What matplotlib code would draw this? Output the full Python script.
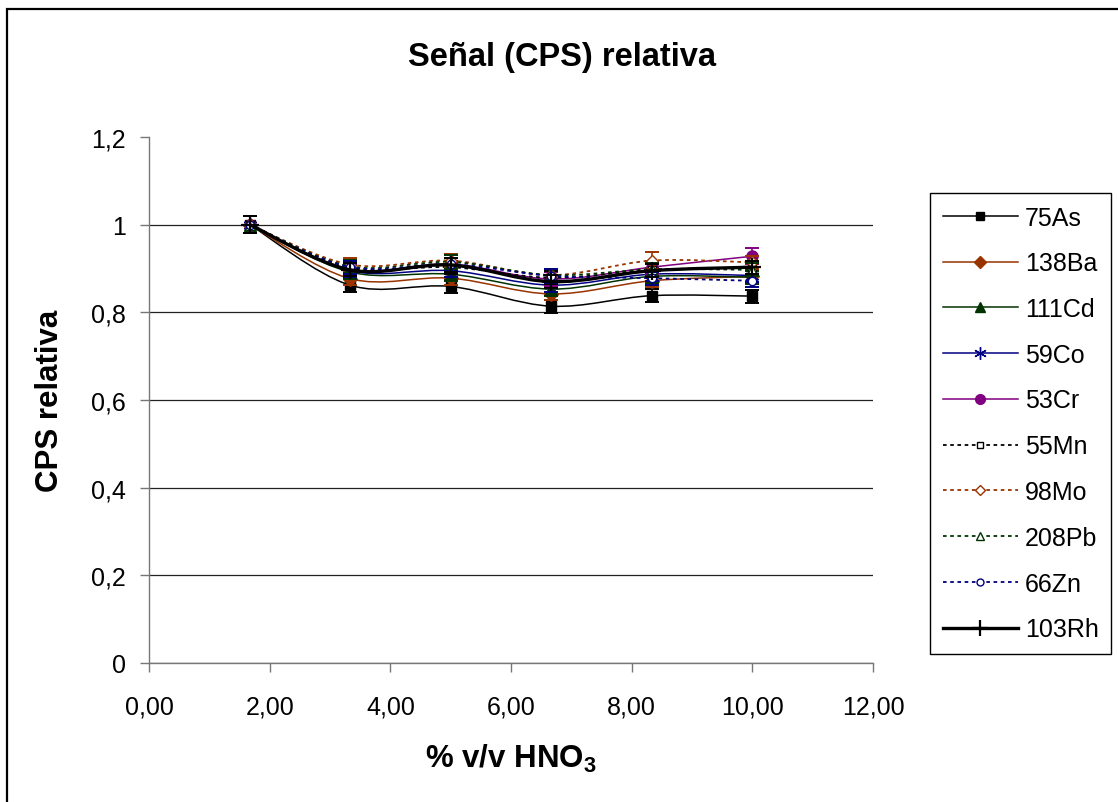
import numpy as np
import matplotlib
matplotlib.use("Agg")
import matplotlib.pyplot as plt
from matplotlib.path import Path
from matplotlib.patches import PathPatch, Rectangle
from matplotlib.lines import Line2D
from matplotlib.ticker import FuncFormatter

plt.rcParams["font.family"] = ["Liberation Sans", "DejaVu Sans"]

# % v/v HNO3
hno3 = [1.67, 3.33, 5.00, 6.67, 8.33, 10.00]

labels = ["75As", "138Ba", "111Cd", "59Co", "53Cr", "55Mn", "98Mo", "208Pb", "66Zn", "103Rh"]

as75 = [1.000, 0.862, 0.859, 0.814, 0.838, 0.837]
ba138 = [1.000, 0.877, 0.878, 0.842, 0.872, 0.882]
cd111 = [1.000, 0.892, 0.887, 0.853, 0.882, 0.880]
co59 = [1.000, 0.895, 0.895, 0.862, 0.887, 0.884]
cr53 = [1.000, 0.898, 0.910, 0.876, 0.903, 0.928]
mn55 = [1.000, 0.903, 0.903, 0.879, 0.897, 0.902]
mo98 = [1.000, 0.909, 0.918, 0.885, 0.918, 0.914]
pb208 = [1.000, 0.905, 0.915, 0.885, 0.898, 0.897]
zn66 = [1.000, 0.903, 0.910, 0.883, 0.878, 0.872]
rh103 = [1.000, 0.897, 0.908, 0.870, 0.895, 0.903]

as75_err = [0.020, 0.015, 0.015, 0.015, 0.015, 0.015]
ba138_err = [0.020, 0.015, 0.015, 0.015, 0.015, 0.015]
cd111_err = [0.020, 0.015, 0.015, 0.015, 0.015, 0.015]
co59_err = [0.020, 0.015, 0.015, 0.015, 0.015, 0.015]
cr53_err = [0.020, 0.015, 0.015, 0.015, 0.015, 0.018]
mn55_err = [0.020, 0.015, 0.015, 0.015, 0.015, 0.015]
mo98_err = [0.020, 0.015, 0.015, 0.015, 0.020, 0.015]
pb208_err = [0.020, 0.015, 0.015, 0.015, 0.015, 0.015]
zn66_err = [0.020, 0.015, 0.015, 0.015, 0.015, 0.015]
rh103_err = [0.020, 0.015, 0.015, 0.015, 0.015, 0.015]

values = [as75, ba138, cd111, co59, cr53, mn55, mo98, pb208, zn66, rh103]
errors = [as75_err, ba138_err, cd111_err, co59_err, cr53_err,
          mn55_err, mo98_err, pb208_err, zn66_err, rh103_err]

BLACK = "#000000"
BROWN = "#993300"
DGREEN = "#003300"
NAVY = "#000080"
PURPLE = "#800080"

DOT = (0, (2.0, 2.0))
# color, linestyle, linewidth, marker, markersize, filled
styles = [
    (BLACK, "-", 1.1, "s", 7, True),
    (BROWN, "-", 1.1, "D", 7, True),
    (DGREEN, "-", 1.1, "^", 8, True),
    (NAVY, "-", 1.1, (6, 2, 0), 10, True),
    (PURPLE, "-", 1.1, "o", 8, True),
    (BLACK, DOT, 1.3, "s", 5.5, False),
    (BROWN, DOT, 1.3, "D", 6.5, False),
    (DGREEN, DOT, 1.3, "^", 6.5, False),
    (NAVY, DOT, 1.3, "o", 6, False),
    (BLACK, "-", 2.4, "+", 13, True),
]


def smooth_path(x, y):
    # Excel-like smoothed line: Catmull-Rom segments as cubic Beziers
    pts = np.column_stack([x, y]).astype(float)
    n = len(pts)
    verts = [pts[0]]
    codes = [Path.MOVETO]
    for i in range(n - 1):
        p0 = pts[max(i - 1, 0)]
        p1 = pts[i]
        p2 = pts[i + 1]
        p3 = pts[min(i + 2, n - 1)]
        verts += [p1 + (p2 - p0) / 6.0, p2 - (p3 - p1) / 6.0, p2]
        codes += [Path.CURVE4] * 3
    return Path(verts, codes)


fig = plt.figure(figsize=(11.18, 8.03), dpi=100)
ax = fig.add_axes([149 / 1118, 1 - 664 / 803, 724 / 1118, 526 / 803])

handles = []
for k, (lab, yv, err, st) in enumerate(zip(labels, values, errors, styles)):
    color, ls, lw, marker, ms, filled = st
    z = 3 + k * 0.1
    mew = 1.0 if marker != "+" else 1.6
    ax.add_patch(PathPatch(smooth_path(hno3, yv), facecolor="none",
                           edgecolor=color, linestyle=ls, linewidth=lw,
                           zorder=z))
    ax.errorbar(hno3, yv, yerr=err, fmt="none", ecolor=color,
                elinewidth=1.2, capsize=5, capthick=1.4, zorder=z)
    mfc = color if filled else "white"
    ax.plot(hno3, yv, linestyle="none", marker=marker, ms=ms,
            markerfacecolor=mfc, markeredgecolor=color,
            markeredgewidth=mew, zorder=z + 0.05)
    handles.append(Line2D([], [], color=color, linestyle=ls, linewidth=lw,
                          marker=marker, ms=ms - 1, markerfacecolor=mfc,
                          markeredgecolor=color, markeredgewidth=mew,
                          label=lab))

ax.set_xlim(0, 12)
ax.set_ylim(0, 1.2)
ax.set_xticks(np.arange(0, 12.01, 2))
ax.set_yticks(np.arange(0, 1.21, 0.2))
ax.xaxis.set_major_formatter(FuncFormatter(lambda v, p: f"{v:.2f}".replace(".", ",")))
ax.yaxis.set_major_formatter(FuncFormatter(lambda v, p: f"{v:g}".replace(".", ",")))

ax.grid(axis="y", color="#222222", linewidth=0.9)
ax.set_axisbelow(True)
ax.yaxis.get_gridlines()[-1].set_visible(False)

for side in ("top", "right"):
    ax.spines[side].set_visible(False)
for side in ("left", "bottom"):
    ax.spines[side].set_color("#777777")
    ax.spines[side].set_linewidth(1.0)

ax.tick_params(axis="both", direction="out", length=6.5, width=1.0,
               color="#777777", labelsize=18)
ax.tick_params(axis="x", pad=16)
ax.tick_params(axis="y", pad=10)

fig.text(562 / 1118, 1 - 66 / 803, "Señal (CPS) relativa", ha="center",
         va="baseline", fontsize=23.5, fontweight="bold")
fig.text(511 / 1118, 1 - 768 / 803, "% v/v HNO$_\\mathregular{3}$", ha="center",
         va="baseline", fontsize=22.5, fontweight="bold")
fig.text(50 / 1118, 1 - 401 / 803, "CPS relativa", ha="center", va="center",
         rotation=90, fontsize=22.5, fontweight="bold")

leg = fig.legend(handles=handles, loc="upper left",
                 bbox_to_anchor=(930 / 1118, 1 - 194 / 803),
                 bbox_transform=fig.transFigure, borderaxespad=0,
                 fontsize=18, numpoints=1, handlelength=3.0,
                 handletextpad=0.3, labelspacing=0.87, borderpad=0.5,
                 fancybox=False, framealpha=1, edgecolor="black")
leg.get_frame().set_linewidth(1.0)

# outer chart border (right and bottom edges fall outside the picture)
fig.add_artist(Rectangle((7 / 1118, -0.1), 1.2, 0.1 + (803 - 10) / 803,
                         transform=fig.transFigure, fill=False,
                         edgecolor="black", linewidth=1.6, clip_on=False))

fig.savefig("out.png", dpi=100)
